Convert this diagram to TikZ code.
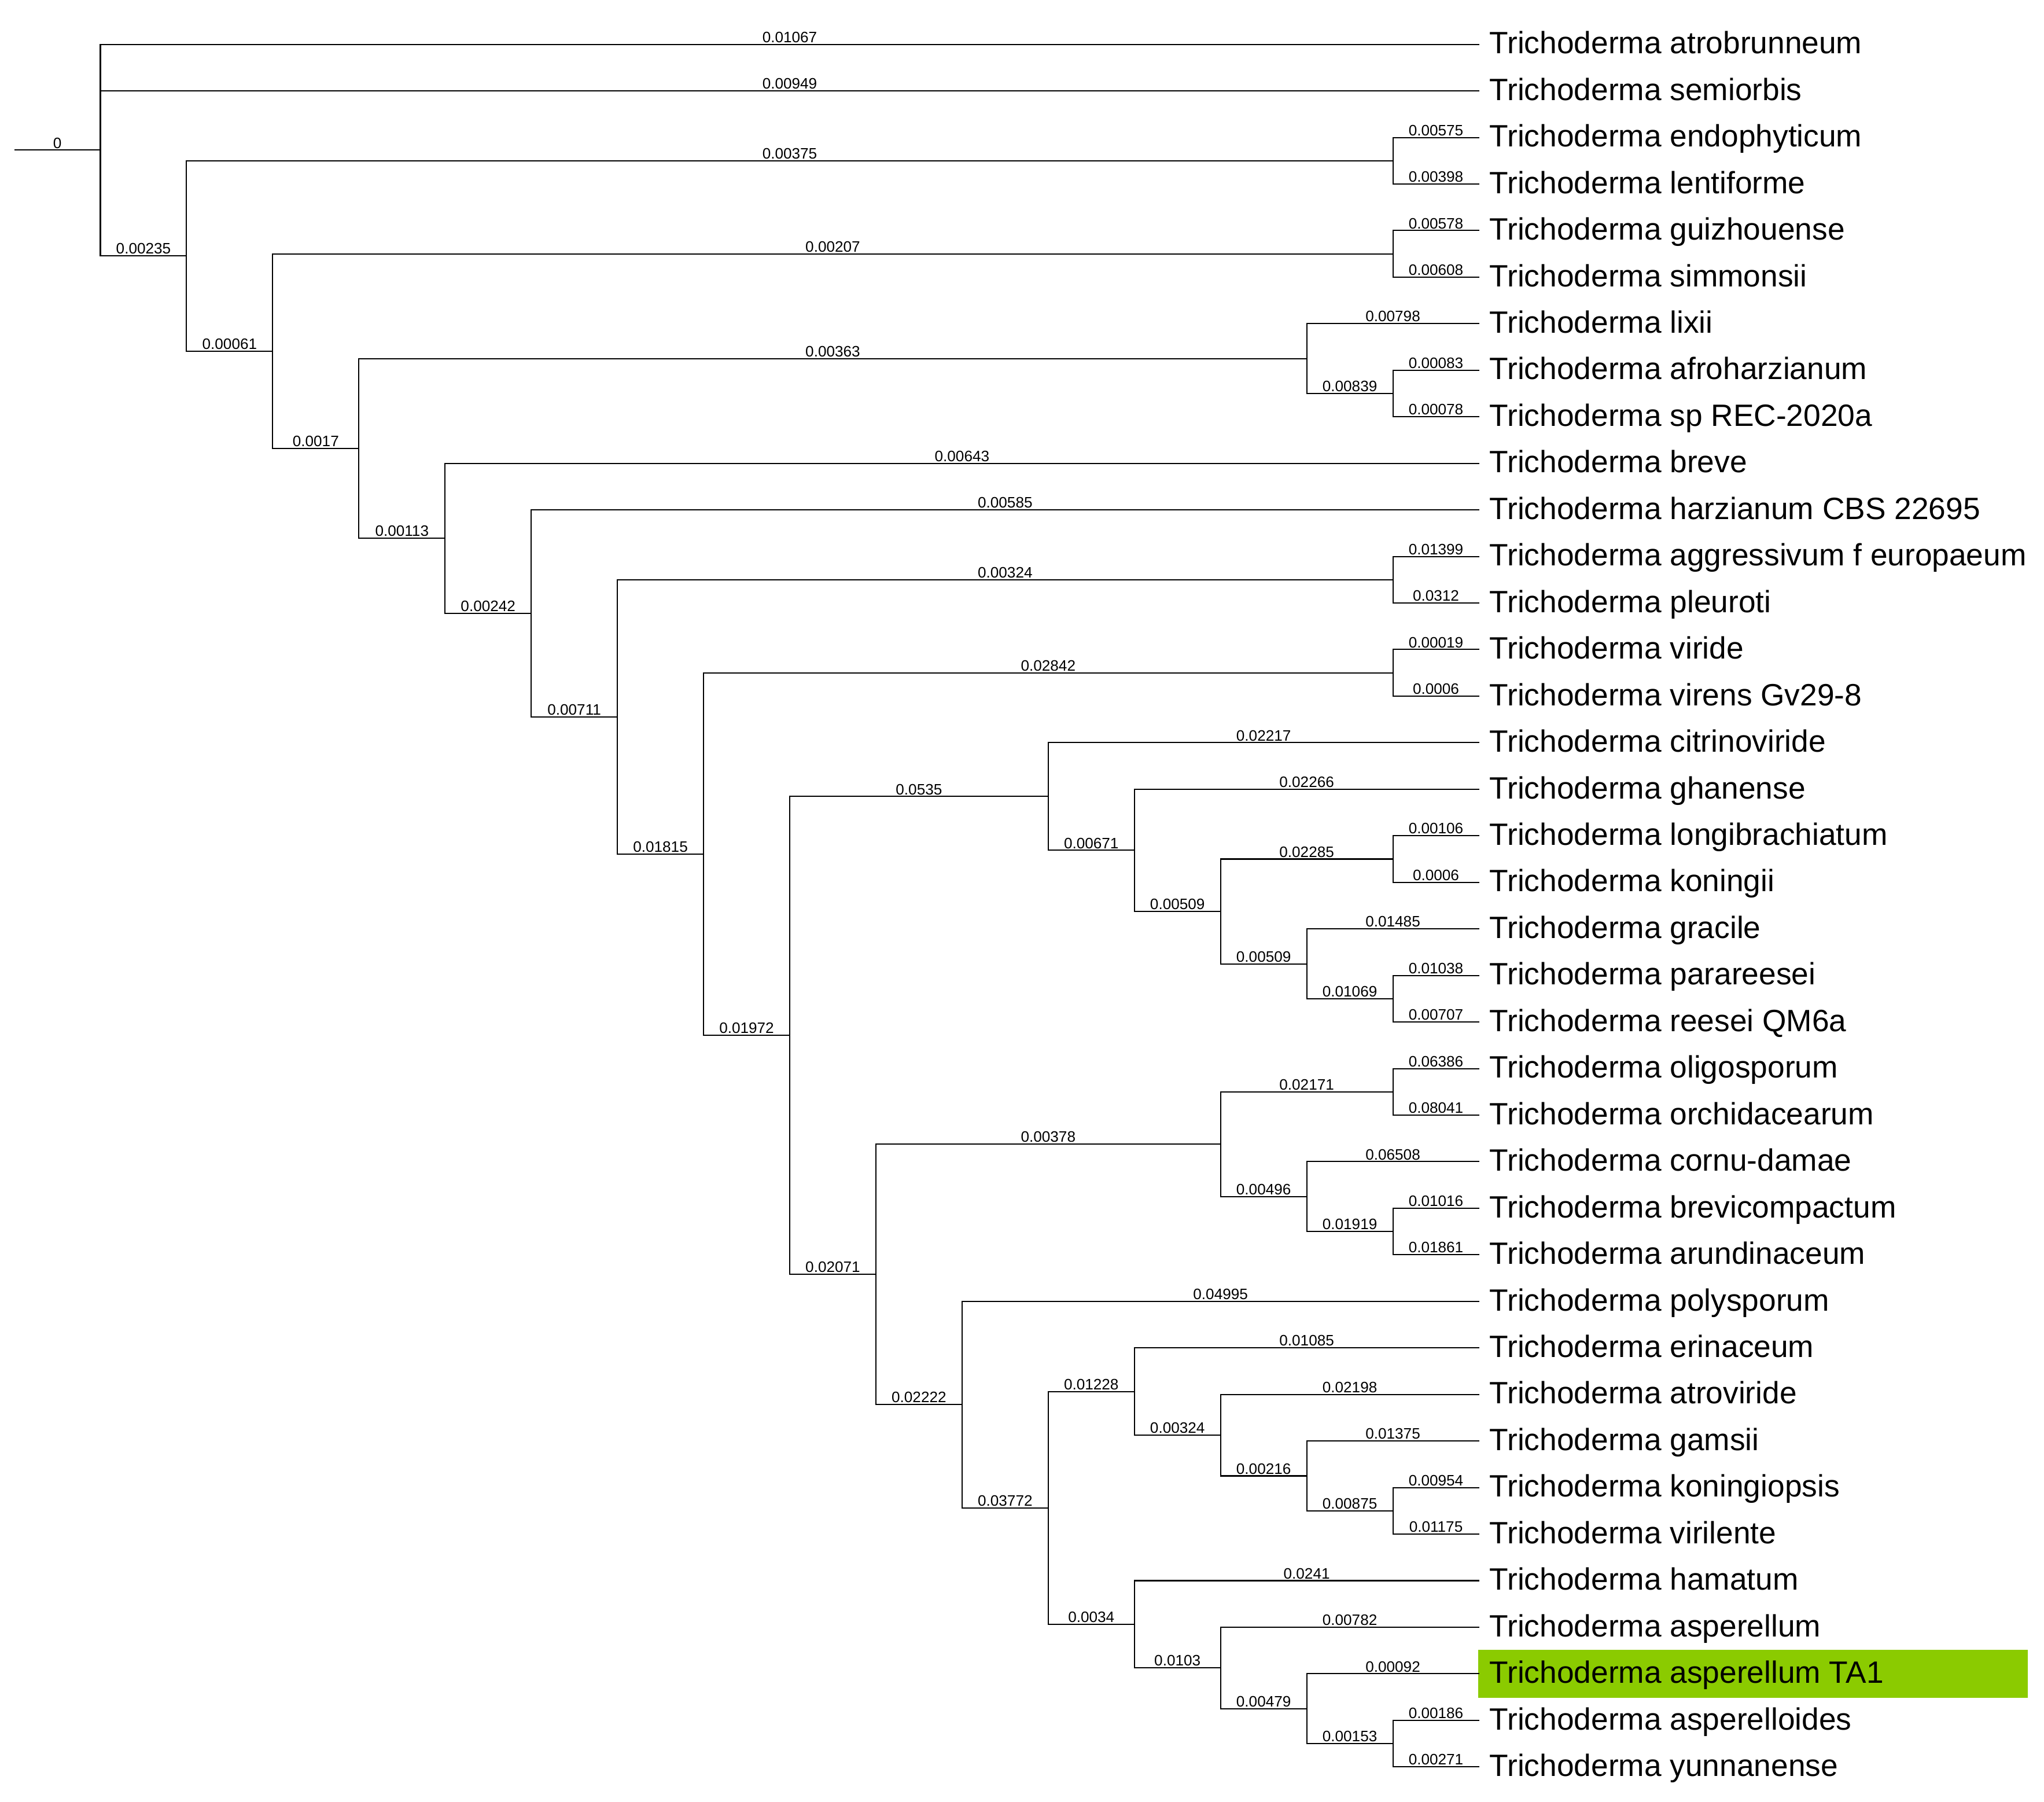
\documentclass[tikz,border=0pt]{standalone}
\usepackage{fontspec}
\setmainfont{Liberation Sans}
\definecolor{tagreen}{RGB}{139,203,0}
\newcommand{\tn}[3]{\coordinate (#1) at ({77+66.1*(#2)},{34+35.705*(#3)});}
\newcommand{\lf}[3]{\coordinate (#1) at (1134.6,{34+35.705*(#2)});
  \node[leaf] (#1t) at (1142.5,{34+35.705*(#2)+7.2}) {#3};}
\begin{document}
\begin{tikzpicture}[x=1pt,y=-1pt,
  br/.style={draw=black, line width=0.9pt},
  bl/.style={font=\fontsize{11.6}{13}\selectfont, anchor=base, inner sep=0pt, yshift=1.5pt},
  leaf/.style={font=\fontsize{23.65}{26}\selectfont, anchor=base west, inner sep=0pt}]
\useasboundingbox (0,0) rectangle (1568,1381.6);
% highlight
\fill[tagreen] (1134,1265.4) rectangle (1555.6,1302.3);
% leaves
\lf{l0}{0}{Trichoderma atrobrunneum}
\lf{l1}{1}{Trichoderma semiorbis}
\lf{l2}{2}{Trichoderma endophyticum}
\lf{l3}{3}{Trichoderma lentiforme}
\lf{l4}{4}{Trichoderma guizhouense}
\lf{l5}{5}{Trichoderma simmonsii}
\lf{l6}{6}{Trichoderma lixii}
\lf{l7}{7}{Trichoderma afroharzianum}
\lf{l8}{8}{Trichoderma sp REC-2020a}
\lf{l9}{9}{Trichoderma breve}
\lf{l10}{10}{Trichoderma harzianum CBS 22695}
\lf{l11}{11}{Trichoderma aggressivum f europaeum}
\lf{l12}{12}{Trichoderma pleuroti}
\lf{l13}{13}{Trichoderma viride}
\lf{l14}{14}{Trichoderma virens Gv29-8}
\lf{l15}{15}{Trichoderma citrinoviride}
\lf{l16}{16}{Trichoderma ghanense}
\lf{l17}{17}{Trichoderma longibrachiatum}
\lf{l18}{18}{Trichoderma koningii}
\lf{l19}{19}{Trichoderma gracile}
\lf{l20}{20}{Trichoderma parareesei}
\lf{l21}{21}{Trichoderma reesei QM6a}
\lf{l22}{22}{Trichoderma oligosporum}
\lf{l23}{23}{Trichoderma orchidacearum}
\lf{l24}{24}{Trichoderma cornu-damae}
\lf{l25}{25}{Trichoderma brevicompactum}
\lf{l26}{26}{Trichoderma arundinaceum}
\lf{l27}{27}{Trichoderma polysporum}
\lf{l28}{28}{Trichoderma erinaceum}
\lf{l29}{29}{Trichoderma atroviride}
\lf{l30}{30}{Trichoderma gamsii}
\lf{l31}{31}{Trichoderma koningiopsis}
\lf{l32}{32}{Trichoderma virilente}
\lf{l33}{33}{Trichoderma hamatum}
\lf{l34}{34}{Trichoderma asperellum}
\lf{l35}{35}{Trichoderma asperellum TA1}
\lf{l36}{36}{Trichoderma asperelloides}
\lf{l37}{37}{Trichoderma yunnanense}
% internal nodes
\tn{root}{0}{2.2726}
\coordinate (stub) at (10.9,{34+35.705*2.2726});
\tn{A}{1}{4.5452}
\tn{n2}{15}{2.5}
\tn{B}{2}{6.590455}
\tn{n4}{15}{4.5}
\tn{C}{3}{8.68091}
\tn{n6}{14}{6.75}
\tn{n7}{15}{7.5}
\tn{D}{4}{10.61182}
\tn{E}{5}{12.22363}
\tn{F}{6}{14.447265}
\tn{n11}{15}{11.5}
\tn{G}{7}{17.39453}
\tn{n13}{15}{13.5}
\tn{H}{8}{21.2890625}
\tn{I}{11}{16.15625}
\tn{K}{12}{17.3125}
\tn{L}{13}{18.625}
\tn{n17}{15}{17.5}
\tn{M}{14}{19.75}
\tn{n20}{15}{20.5}
\tn{J}{9}{26.421875}
\tn{N}{13}{23.625}
\tn{n22}{15}{22.5}
\tn{P}{14}{24.75}
\tn{n25}{15}{25.5}
\tn{O}{10}{29.21875}
\tn{Q}{11}{31.4375}
\tn{R}{12}{28.9375}
\tn{T}{13}{29.875}
\tn{U}{14}{30.75}
\tn{n31}{15}{31.5}
\tn{S}{12}{33.9375}
\tn{V}{13}{34.875}
\tn{W}{14}{35.75}
\tn{n36}{15}{36.5}
% edges
\draw[br] (stub) -- node[bl]{0} (root);
\draw[br] (root) |- node[bl,pos=.75]{0.01067} (l0);
\draw[br] (root) |- node[bl,pos=.75]{0.00949} (l1);
\draw[br] (root) |- node[bl,pos=.75]{0.00235} (A);
\draw[br] (A) |- node[bl,pos=.75]{0.00375} (n2);
\draw[br] (A) |- node[bl,pos=.75]{0.00061} (B);
\draw[br] (n2) |- node[bl,pos=.75]{0.00575} (l2);
\draw[br] (n2) |- node[bl,pos=.75]{0.00398} (l3);
\draw[br] (B) |- node[bl,pos=.75]{0.00207} (n4);
\draw[br] (B) |- node[bl,pos=.75]{0.0017} (C);
\draw[br] (n4) |- node[bl,pos=.75]{0.00578} (l4);
\draw[br] (n4) |- node[bl,pos=.75]{0.00608} (l5);
\draw[br] (C) |- node[bl,pos=.75]{0.00363} (n6);
\draw[br] (C) |- node[bl,pos=.75]{0.00113} (D);
\draw[br] (n6) |- node[bl,pos=.75]{0.00798} (l6);
\draw[br] (n6) |- node[bl,pos=.75]{0.00839} (n7);
\draw[br] (n7) |- node[bl,pos=.75]{0.00083} (l7);
\draw[br] (n7) |- node[bl,pos=.75]{0.00078} (l8);
\draw[br] (D) |- node[bl,pos=.75]{0.00643} (l9);
\draw[br] (D) |- node[bl,pos=.75]{0.00242} (E);
\draw[br] (E) |- node[bl,pos=.75]{0.00585} (l10);
\draw[br] (E) |- node[bl,pos=.75]{0.00711} (F);
\draw[br] (F) |- node[bl,pos=.75]{0.00324} (n11);
\draw[br] (F) |- node[bl,pos=.75]{0.01815} (G);
\draw[br] (n11) |- node[bl,pos=.75]{0.01399} (l11);
\draw[br] (n11) |- node[bl,pos=.75]{0.0312} (l12);
\draw[br] (G) |- node[bl,pos=.75]{0.02842} (n13);
\draw[br] (G) |- node[bl,pos=.75]{0.01972} (H);
\draw[br] (n13) |- node[bl,pos=.75]{0.00019} (l13);
\draw[br] (n13) |- node[bl,pos=.75]{0.0006} (l14);
\draw[br] (H) |- node[bl,pos=.75]{0.0535} (I);
\draw[br] (H) |- node[bl,pos=.75]{0.02071} (J);
\draw[br] (I) |- node[bl,pos=.75]{0.02217} (l15);
\draw[br] (I) |- node[bl,pos=.75]{0.00671} (K);
\draw[br] (K) |- node[bl,pos=.75]{0.02266} (l16);
\draw[br] (K) |- node[bl,pos=.75]{0.00509} (L);
\draw[br] (L) |- node[bl,pos=.75]{0.02285} (n17);
\draw[br] (L) |- node[bl,pos=.75]{0.00509} (M);
\draw[br] (n17) |- node[bl,pos=.75]{0.00106} (l17);
\draw[br] (n17) |- node[bl,pos=.75]{0.0006} (l18);
\draw[br] (M) |- node[bl,pos=.75]{0.01485} (l19);
\draw[br] (M) |- node[bl,pos=.75]{0.01069} (n20);
\draw[br] (n20) |- node[bl,pos=.75]{0.01038} (l20);
\draw[br] (n20) |- node[bl,pos=.75]{0.00707} (l21);
\draw[br] (J) |- node[bl,pos=.75]{0.00378} (N);
\draw[br] (J) |- node[bl,pos=.75]{0.02222} (O);
\draw[br] (N) |- node[bl,pos=.75]{0.02171} (n22);
\draw[br] (N) |- node[bl,pos=.75]{0.00496} (P);
\draw[br] (n22) |- node[bl,pos=.75]{0.06386} (l22);
\draw[br] (n22) |- node[bl,pos=.75]{0.08041} (l23);
\draw[br] (P) |- node[bl,pos=.75]{0.06508} (l24);
\draw[br] (P) |- node[bl,pos=.75]{0.01919} (n25);
\draw[br] (n25) |- node[bl,pos=.75]{0.01016} (l25);
\draw[br] (n25) |- node[bl,pos=.75]{0.01861} (l26);
\draw[br] (O) |- node[bl,pos=.75]{0.04995} (l27);
\draw[br] (O) |- node[bl,pos=.75]{0.03772} (Q);
\draw[br] (Q) |- node[bl,pos=.75]{0.01228} (R);
\draw[br] (Q) |- node[bl,pos=.75]{0.0034} (S);
\draw[br] (R) |- node[bl,pos=.75]{0.01085} (l28);
\draw[br] (R) |- node[bl,pos=.75]{0.00324} (T);
\draw[br] (T) |- node[bl,pos=.75]{0.02198} (l29);
\draw[br] (T) |- node[bl,pos=.75]{0.00216} (U);
\draw[br] (U) |- node[bl,pos=.75]{0.01375} (l30);
\draw[br] (U) |- node[bl,pos=.75]{0.00875} (n31);
\draw[br] (n31) |- node[bl,pos=.75]{0.00954} (l31);
\draw[br] (n31) |- node[bl,pos=.75]{0.01175} (l32);
\draw[br] (S) |- node[bl,pos=.75]{0.0241} (l33);
\draw[br] (S) |- node[bl,pos=.75]{0.0103} (V);
\draw[br] (V) |- node[bl,pos=.75]{0.00782} (l34);
\draw[br] (V) |- node[bl,pos=.75]{0.00479} (W);
\draw[br] (W) |- node[bl,pos=.75]{0.00092} (l35);
\draw[br] (W) |- node[bl,pos=.75]{0.00153} (n36);
\draw[br] (n36) |- node[bl,pos=.75]{0.00186} (l36);
\draw[br] (n36) |- node[bl,pos=.75]{0.00271} (l37);
\end{tikzpicture}
\end{document}
